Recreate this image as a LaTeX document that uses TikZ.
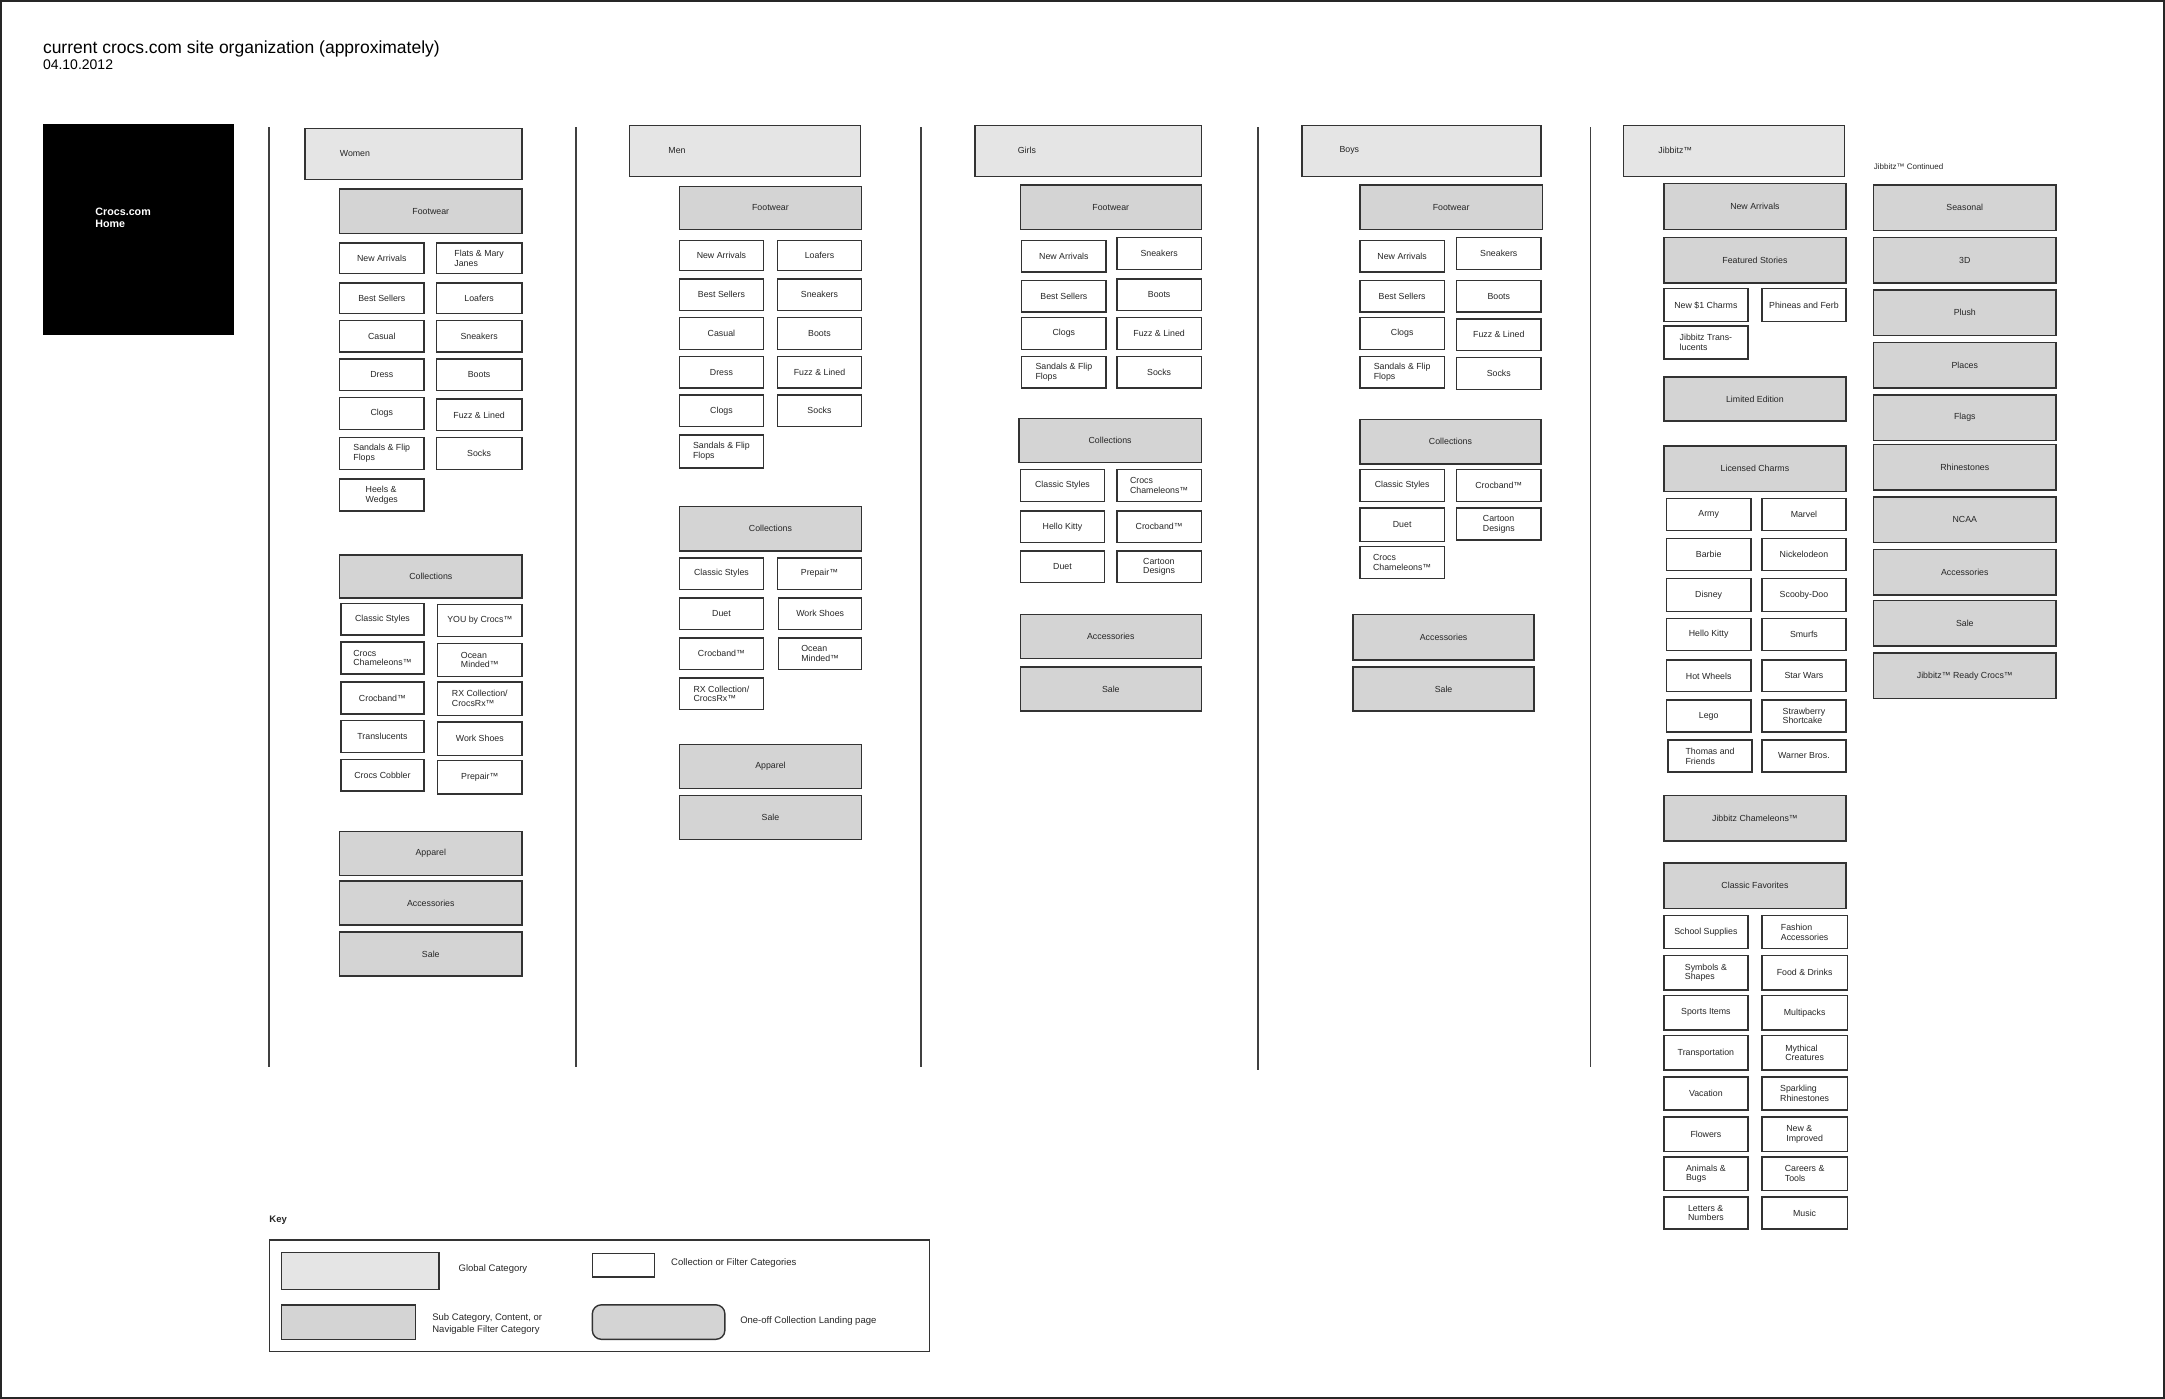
\documentclass[tikz,border=0pt]{standalone}
\usepackage{fontspec}
\setmainfont{Liberation Sans}
\usetikzlibrary{fit}
\newcommand{\bx}[7]{\node[#1, fit={(#2,#3) (#4,#5)}] (#6) {};
  \node[lbl] (#6t) at (#6.center) {#7};}
\tikzset{
  boxbase/.style={draw=black!80, line width=1.4pt, inner sep=0pt},
  glob/.style={boxbase, fill=black!10},
  subc/.style={boxbase, fill=black!17},
  filt/.style={boxbase, fill=white},
  lbl/.style={inner sep=0pt, text=black!85, font=\fontsize{8.8}{9.8}\selectfont, align=left},
  sep/.style={draw=black!75, line width=1.5pt},
}
\begin{document}
\begin{tikzpicture}[x=1.3807pt, y=-1.3807pt]
\useasboundingbox (0,0) rectangle (1568,1013);
\draw[black!85, line width=2pt] (0.8,0.8) rectangle (1567.2,1012.2);

% title
\node[anchor=base west, inner sep=0pt, font=\fontsize{17.5}{19}\selectfont] (title) at (31,38.5) {current crocs.com site organization (approximately)};
\node[anchor=base west, inner sep=0pt, font=\fontsize{14}{15}\selectfont] (date) at (31,50) {04.10.2012};

% home
\node[fill=black, draw=black, inner sep=0pt, fit={(31,90) (169,242)}] (home) {};
\node[anchor=west, inner sep=0pt, text=white, align=left, font=\bfseries\fontsize{10.7}{12}\selectfont] (homel) at (69,158) {Crocs.com\\Home};

% separators
\coordinate (s1a) at (195,92); \coordinate (s1b) at (195,773);
\coordinate (s2a) at (417,92); \coordinate (s2b) at (417,773);
\coordinate (s3a) at (667,92); \coordinate (s3b) at (667,773);
\coordinate (s4a) at (911,92); \coordinate (s4b) at (911,775);
\coordinate (s5a) at (1152,92); \coordinate (s5b) at (1152,773);
\draw[sep] (s1a) -- (s1b);
\draw[sep] (s2a) -- (s2b);
\draw[sep] (s3a) -- (s3b);
\draw[sep] (s4a) -- (s4b);
\draw[sep] (s5a) -- (s5b);

% ---------- Women ----------
\node[glob, fit={(221,93) (378,130)}] (women) {};
\node[lbl, anchor=west] (womenl) at (246,111) {Women};
\bx{subc}{246}{137}{378}{169}{wfoot}{Footwear}
\bx{filt}{246}{176}{307}{198}{w1l}{New Arrivals}
\bx{filt}{316}{176}{378}{198}{w1r}{Flats \& Mary\\Janes}
\bx{filt}{246}{205}{307}{227}{w2l}{Best Sellers}
\bx{filt}{316}{205}{378}{227}{w2r}{Loafers}
\bx{filt}{246}{232}{307}{255}{w3l}{Casual}
\bx{filt}{316}{232}{378}{255}{w3r}{Sneakers}
\bx{filt}{246}{260}{307}{283}{w4l}{Dress}
\bx{filt}{316}{260}{378}{283}{w4r}{Boots}
\bx{filt}{246}{288}{307}{311}{w5l}{Clogs}
\bx{filt}{316}{289}{378}{312}{w5r}{Fuzz \& Lined}
\bx{filt}{246}{317}{307}{340}{w6l}{Sandals \& Flip\\Flops}
\bx{filt}{316}{317}{378}{340}{w6r}{Socks}
\bx{filt}{246}{347}{307}{370}{w7l}{Heels \&\\Wedges}
\bx{subc}{246}{402}{378}{433}{wcoll}{Collections}
\bx{filt}{247}{437}{307}{460}{wc1l}{Classic Styles}
\bx{filt}{317}{438}{378}{461}{wc1r}{YOU by Crocs™}
\bx{filt}{247}{465}{307}{488}{wc2l}{Crocs\\Chameleons™}
\bx{filt}{317}{466}{378}{490}{wc2r}{Ocean\\Minded™}
\bx{filt}{247}{494}{307}{517}{wc3l}{Crocband™}
\bx{filt}{317}{494}{378}{518}{wc3r}{RX Collection/\\CrocsRx™}
\bx{filt}{247}{522}{307}{545}{wc4l}{Translucents}
\bx{filt}{317}{523}{378}{547}{wc4r}{Work Shoes}
\bx{filt}{247}{550}{307}{573}{wc5l}{Crocs Cobbler}
\bx{filt}{317}{551}{378}{575}{wc5r}{Prepair™}
\bx{subc}{246}{602}{378}{634}{wapp}{Apparel}
\bx{subc}{246}{638}{378}{670}{wacc}{Accessories}
\bx{subc}{246}{675}{378}{707}{wsale}{Sale}

% ---------- Men ----------
\node[glob, fit={(456,91) (623,128)}] (men) {};
\node[lbl, anchor=west] (menl) at (484,109) {Men};
\bx{subc}{492}{135}{624}{166}{mfoot}{Footwear}
\bx{filt}{492}{174}{553}{196}{m1l}{New Arrivals}
\bx{filt}{563}{174}{624}{196}{m1r}{Loafers}
\bx{filt}{492}{202}{553}{225}{m2l}{Best Sellers}
\bx{filt}{563}{202}{624}{225}{m2r}{Sneakers}
\bx{filt}{492}{230}{553}{253}{m3l}{Casual}
\bx{filt}{563}{230}{624}{253}{m3r}{Boots}
\bx{filt}{492}{258}{553}{281}{m4l}{Dress}
\bx{filt}{563}{258}{624}{281}{m4r}{Fuzz \& Lined}
\bx{filt}{492}{286}{553}{309}{m5l}{Clogs}
\bx{filt}{563}{286}{624}{309}{m5r}{Socks}
\bx{filt}{492}{315}{553}{339}{m6l}{Sandals \& Flip\\Flops}
\bx{subc}{492}{367}{624}{399}{mcoll}{Collections}
\bx{filt}{492}{404}{553}{427}{mc1l}{Classic Styles}
\bx{filt}{563}{404}{624}{427}{mc1r}{Prepair™}
\bx{filt}{492}{433}{553}{456}{mc2l}{Duet}
\bx{filt}{564}{433}{624}{456}{mc2r}{Work Shoes}
\bx{filt}{492}{462}{553}{485}{mc3l}{Crocband™}
\bx{filt}{564}{462}{624}{485}{mc3r}{Ocean\\Minded™}
\bx{filt}{492}{491}{553}{514}{mc4l}{RX Collection/\\CrocsRx™}
\bx{subc}{492}{539}{624}{571}{mapp}{Apparel}
\bx{subc}{492}{576}{624}{608}{msale}{Sale}

% ---------- Girls ----------
\node[glob, fit={(706,91) (870,128)}] (girls) {};
\node[lbl, anchor=west] (girlsl) at (737,109) {Girls};
\bx{subc}{739}{134}{870}{166}{gfoot}{Footwear}
\bx{filt}{740}{174}{801}{197}{g1l}{New Arrivals}
\bx{filt}{809}{172}{870}{195}{g1r}{Sneakers}
\bx{filt}{740}{203}{801}{226}{g2l}{Best Sellers}
\bx{filt}{809}{202}{870}{225}{g2r}{Boots}
\bx{filt}{740}{230}{801}{253}{g3l}{Clogs}
\bx{filt}{809}{230}{870}{253}{g3r}{Fuzz \& Lined}
\bx{filt}{740}{258}{801}{281}{g4l}{Sandals \& Flip\\Flops}
\bx{filt}{809}{258}{870}{281}{g4r}{Socks}
\bx{subc}{738}{303}{870}{335}{gcoll}{Collections}
\bx{filt}{739}{340}{800}{363}{gc1l}{Classic Styles}
\bx{filt}{809}{340}{870}{363}{gc1r}{Crocs\\Chameleons™}
\bx{filt}{739}{370}{800}{393}{gc2l}{Hello Kitty}
\bx{filt}{809}{370}{870}{393}{gc2r}{Crocband™}
\bx{filt}{739}{399}{800}{422}{gc3l}{Duet}
\bx{filt}{809}{399}{870}{422}{gc3r}{Cartoon\\Designs}
\bx{subc}{739}{445}{870}{477}{gacc}{Accessories}
\bx{subc}{739}{483}{870}{515}{gsale}{Sale}

% ---------- Boys ----------
\node[glob, fit={(943,91) (1116,128)}] (boys) {};
\node[lbl, anchor=west] (boysl) at (970,109) {Boys};
\bx{subc}{985}{134}{1117}{166}{bfoot}{Footwear}
\bx{filt}{985}{174}{1046}{197}{b1l}{New Arrivals}
\bx{filt}{1055}{172}{1116}{195}{b1r}{Sneakers}
\bx{filt}{985}{203}{1046}{226}{b2l}{Best Sellers}
\bx{filt}{1055}{203}{1116}{226}{b2r}{Boots}
\bx{filt}{985}{230}{1046}{253}{b3l}{Clogs}
\bx{filt}{1055}{231}{1116}{254}{b3r}{Fuzz \& Lined}
\bx{filt}{985}{258}{1046}{281}{b4l}{Sandals \& Flip\\Flops}
\bx{filt}{1055}{259}{1116}{282}{b4r}{Socks}
\bx{subc}{985}{304}{1116}{336}{bcoll}{Collections}
\bx{filt}{985}{340}{1046}{363}{bc1l}{Classic Styles}
\bx{filt}{1055}{340}{1116}{363}{bc1r}{Crocband™}
\bx{filt}{985}{368}{1046}{392}{bc2l}{Duet}
\bx{filt}{1055}{368}{1116}{391}{bc2r}{Cartoon\\Designs}
\bx{filt}{985}{396}{1046}{419}{bc3l}{Crocs\\Chameleons™}
\bx{subc}{980}{445}{1111}{478}{bacc}{Accessories}
\bx{subc}{980}{483}{1111}{515}{bsale}{Sale}

% ---------- Jibbitz ----------
\node[glob, fit={(1176,91) (1336,128)}] (jib) {};
\node[lbl, anchor=west] (jibl) at (1201,109) {Jibbitz™};
\bx{subc}{1205}{133}{1337}{166}{jnew}{New Arrivals}
\bx{subc}{1205}{172}{1337}{205}{jfeat}{Featured Stories}
\bx{filt}{1205}{209}{1266}{233}{jf1l}{New \$1 Charms}
\bx{filt}{1276}{209}{1337}{233}{jf1r}{Phineas and Ferb}
\bx{filt}{1205}{236}{1266}{260}{jf2l}{Jibbitz Trans-\\lucents}
\bx{subc}{1205}{273}{1337}{305}{jlim}{Limited Edition}
\bx{subc}{1205}{323}{1337}{356}{jlic}{Licensed Charms}
\bx{filt}{1207}{361}{1268}{384}{jl1l}{Army}
\bx{filt}{1276}{361}{1337}{384}{jl1r}{Marvel}
\bx{filt}{1207}{390}{1268}{413}{jl2l}{Barbie}
\bx{filt}{1276}{390}{1337}{413}{jl2r}{Nickelodeon}
\bx{filt}{1207}{419}{1268}{443}{jl3l}{Disney}
\bx{filt}{1276}{419}{1337}{443}{jl3r}{Scooby-Doo}
\bx{filt}{1207}{448}{1268}{471}{jl4l}{Hello Kitty}
\bx{filt}{1276}{448}{1337}{471}{jl4r}{Smurfs}
\bx{filt}{1207}{478}{1268}{501}{jl5l}{Hot Wheels}
\bx{filt}{1276}{478}{1337}{501}{jl5r}{Star Wars}
\bx{filt}{1207}{507}{1268}{530}{jl6l}{Lego}
\bx{filt}{1276}{507}{1337}{530}{jl6r}{Strawberry\\Shortcake}
\bx{filt}{1208}{536}{1269}{559}{jl7l}{Thomas and\\Friends}
\bx{filt}{1276}{536}{1337}{559}{jl7r}{Warner Bros.}
\bx{subc}{1205}{576}{1337}{609}{jcham}{Jibbitz Chameleons™}
\bx{subc}{1205}{625}{1337}{658}{jclass}{Classic Favorites}
\bx{filt}{1205}{663}{1266}{687}{jc1l}{School Supplies}
\bx{filt}{1276}{663}{1338}{687}{jc1r}{Fashion\\Accessories}
\bx{filt}{1205}{692}{1266}{717}{jc2l}{Symbols \&\\Shapes}
\bx{filt}{1276}{692}{1338}{717}{jc2r}{Food \& Drinks}
\bx{filt}{1205}{721}{1266}{746}{jc3l}{Sports Items}
\bx{filt}{1276}{721}{1338}{746}{jc3r}{Multipacks}
\bx{filt}{1205}{750}{1266}{775}{jc4l}{Transportation}
\bx{filt}{1276}{750}{1338}{775}{jc4r}{Mythical\\Creatures}
\bx{filt}{1205}{780}{1266}{804}{jc5l}{Vacation}
\bx{filt}{1276}{780}{1338}{804}{jc5r}{Sparkling\\Rhinestones}
\bx{filt}{1205}{809}{1266}{834}{jc6l}{Flowers}
\bx{filt}{1276}{809}{1338}{834}{jc6r}{New \&\\Improved}
\bx{filt}{1205}{838}{1266}{862}{jc7l}{Animals \&\\Bugs}
\bx{filt}{1276}{838}{1338}{862}{jc7r}{Careers \&\\Tools}
\bx{filt}{1205}{867}{1266}{890}{jc8l}{Letters \&\\Numbers}
\bx{filt}{1276}{867}{1338}{890}{jc8r}{Music}

% ---------- Jibbitz continued ----------
\node[lbl, anchor=west, font=\fontsize{8}{9}\selectfont] (jcontl) at (1357,121) {Jibbitz™ Continued};
\bx{subc}{1357}{134}{1489}{167}{k1}{Seasonal}
\bx{subc}{1357}{172}{1489}{205}{k2}{3D}
\bx{subc}{1357}{210}{1489}{243}{k3}{Plush}
\bx{subc}{1357}{248}{1489}{281}{k4}{Places}
\bx{subc}{1357}{286}{1489}{319}{k5}{Flags}
\bx{subc}{1357}{322}{1489}{355}{k6}{Rhinestones}
\bx{subc}{1357}{360}{1489}{393}{k7}{NCAA}
\bx{subc}{1357}{398}{1489}{431}{k8}{Accessories}
\bx{subc}{1357}{435}{1489}{468}{k9}{Sale}
\bx{subc}{1357}{473}{1489}{506}{k10}{Jibbitz™ Ready Crocs™}

% ---------- Key ----------
\node[lbl, anchor=west, font=\bfseries\fontsize{9.5}{11}\selectfont] (keyl) at (195,884) {Key};
\node[draw=black!80, line width=1.4pt, inner sep=0pt, fit={(195,898) (673,979)}] (keybox) {};
\node[glob, fit={(204,907) (318,934)}] (kg) {};
\node[lbl, anchor=west, font=\fontsize{9.5}{11}\selectfont] (kgl) at (332,919) {Global Category};
\node[filt, fit={(429,908) (474,925)}] (kf) {};
\node[lbl, anchor=west, font=\fontsize{9.5}{11}\selectfont] (kfl) at (486,915) {Collection or Filter Categories};
\node[subc, fit={(204,945) (301,970)}] (ks) {};
\node[lbl, anchor=west, font=\fontsize{9.5}{11.5}\selectfont] (ksl) at (313,959) {Sub Category, Content, or\\Navigable Filter Category};
\node[subc, rounded corners=9pt, fit={(429,945) (525,970)}] (kr) {};
\node[lbl, anchor=west, font=\fontsize{9.5}{11}\selectfont] (krl) at (536,957) {One-off Collection Landing page};
\end{tikzpicture}
\end{document}
